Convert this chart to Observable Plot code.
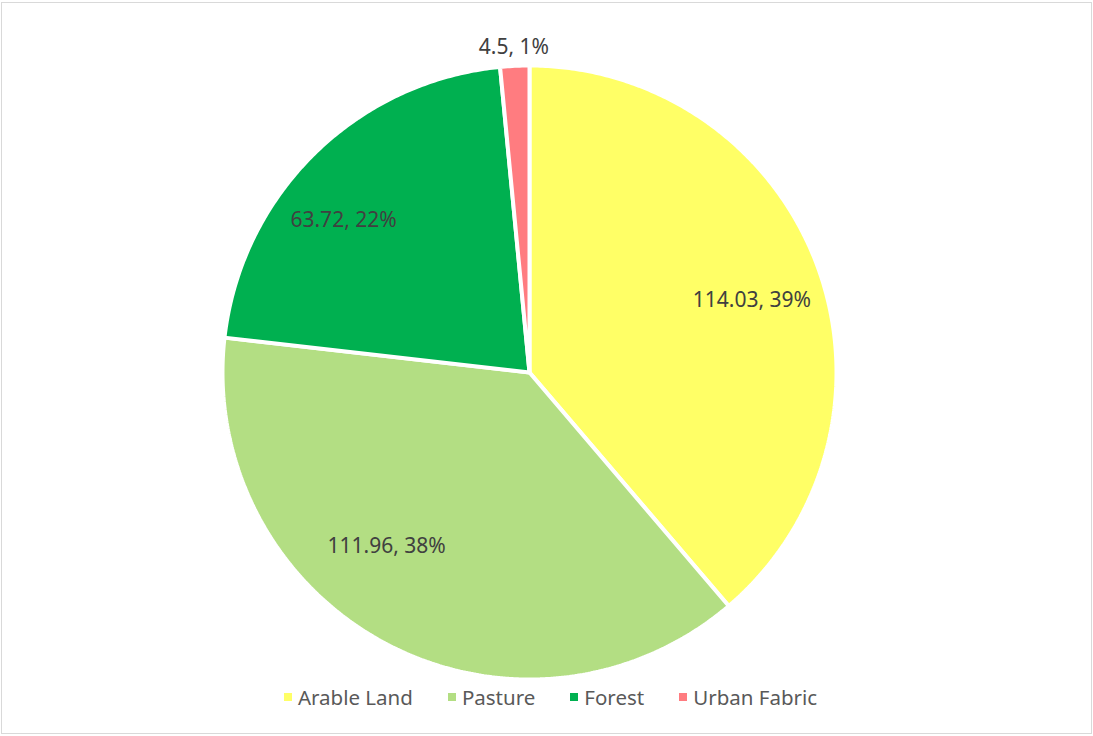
<!DOCTYPE html>
<html>
<head>
<meta charset="utf-8">
<script src="https://cdn.jsdelivr.net/npm/d3@7"></script>
<script src="https://cdn.jsdelivr.net/npm/@observablehq/plot@0.6"></script>
<style>
  html, body { margin: 0; padding: 0; background: #fff; }
  #wrap { position: relative; width: 1093px; height: 736px; overflow: hidden; font-family: "Noto Sans", sans-serif; }
  #frame { position: absolute; left: 1px; top: 2px; width: 1091px; height: 732px; border: 1px solid #d9d9d9; box-sizing: border-box; pointer-events: none; }
  #legend { position: absolute; left: 0; top: 683px; width: 1093px; display: flex; justify-content: center; gap: 35px; font-size: 20.5px; color: #595959; padding-left: 8px; box-sizing: border-box; }
  .item { display: flex; align-items: center; gap: 6px; }
  .sw { width: 8px; height: 8px; display: inline-block; }
</style>
</head>
<body>
<div id="wrap">
  <div id="chart"></div>
  <div id="legend"></div>
  <div id="frame"></div>
</div>
<script>
const categories = ["Arable Land", "Pasture", "Forest", "Urban Fabric"];
const values = [114.03, 111.96, 63.72, 4.5];
const percentLabels = ["39%", "38%", "22%", "1%"];
const colors = ["#FFFF66", "#B3DE83", "#00B050", "#FF7C80"];

const data = categories.map((c, i) => ({cat: c, value: values[i], pct: percentLabels[i]}));
const arcs = d3.pie().sort(null).value(d => d.value)(data);

// polygon points of each slice in unit-circle coordinates (angle clockwise from top)
const poly = [];
arcs.forEach(a => {
  const cat = a.data.cat;
  poly.push({cat, x: 0, y: 0});
  const n = Math.max(4, Math.ceil((a.endAngle - a.startAngle) / (2 * Math.PI) * 720));
  for (let k = 0; k <= n; k++) {
    const t = a.startAngle + (a.endAngle - a.startAngle) * k / n;
    poly.push({cat, x: Math.sin(t), y: Math.cos(t)});
  }
  poly.push({cat, x: 0, y: 0});
});

// labels
const labelR = [0.72, 0.72, 0.72, 1.06];
const labelDx = [15, -39, -31, 0];
const labelDy = [4, -21, 5, 0];
const labels = arcs.map((a, i) => {
  const m = (a.startAngle + a.endAngle) / 2;
  return {text: `${a.data.value}, ${a.data.pct}`, x: labelR[i] * Math.sin(m), y: labelR[i] * Math.cos(m), i};
});

const R = 307, cx = 529, cy = 372;
const W = 1093, H = 680;
const chart = Plot.plot({
  width: W,
  height: H,
  marginLeft: cx - R,
  marginRight: W - (cx + R),
  marginTop: cy - R,
  marginBottom: H - (cy + R),
  x: {domain: [-1, 1], axis: null},
  y: {domain: [-1, 1], axis: null},
  color: {domain: categories, range: colors},
  style: {fontFamily: "'Noto Sans', sans-serif", background: "white", overflow: "visible"},
  marks: [
    Plot.line(poly, {x: "x", y: "y", z: "cat", fill: "cat", stroke: "white", strokeWidth: 4, strokeLinejoin: "miter", curve: "linear"}),
    ...labels.map(l => Plot.text([l], {x: "x", y: "y", text: "text", dx: labelDx[l.i], dy: labelDy[l.i], fill: "#404040", fontSize: 21}))
  ]
});
document.getElementById("chart").appendChild(chart);

const legend = document.getElementById("legend");
categories.forEach((c, i) => {
  const it = document.createElement("div");
  it.className = "item";
  const sw = document.createElement("span");
  sw.className = "sw";
  sw.style.background = colors[i];
  const tx = document.createElement("span");
  tx.textContent = c;
  it.appendChild(sw); it.appendChild(tx);
  legend.appendChild(it);
});
</script>
</body>
</html>
